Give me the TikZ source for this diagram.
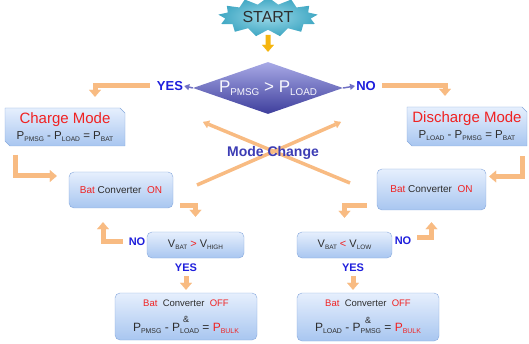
\documentclass[tikz,border=0pt]{standalone}
\usepackage{fontspec}
\setmainfont{Liberation Sans}
\usetikzlibrary{arrows.meta,shapes.geometric,shapes.misc,shapes.symbols}
\definecolor{Orng}{HTML}{F8BB82}
\definecolor{Gold}{HTML}{F5B50F}
\definecolor{Txt}{HTML}{2E2E2E}
\definecolor{RedT}{HTML}{F02222}
\definecolor{BlueT}{HTML}{1E1EDC}
\definecolor{Purp}{HTML}{3C3CB4}
\definecolor{PurpA}{HTML}{7070C4}
\definecolor{BoxT}{HTML}{E6EFFD}
\definecolor{BoxB}{HTML}{A8C6F0}
\definecolor{BoxE}{HTML}{86A8DC}
\definecolor{DiaT}{HTML}{A8AAE6}
\definecolor{DiaB}{HTML}{3E3E9C}
\definecolor{StarF}{HTML}{3FA7C3}
\definecolor{StarI}{HTML}{9AD8E8}
\newcommand\fsz[1]{\fontsize{#1}{#1}\selectfont}
\newcommand\sbs[1]{\raisebox{-0.35ex}{\scalebox{0.58}{#1}}}

\begin{document}
\begin{tikzpicture}[x=1pt,y=-1pt,
  box/.style={draw=BoxE,top color=BoxT,bottom color=BoxB,rounded corners=5pt,
    inner sep=2pt,align=center,text=Txt},
  modebox/.style={draw=BoxE,top color=BoxT,bottom color=BoxB,chamfered rectangle,
    chamfered rectangle corners={north east,south west},chamfered rectangle xsep=2.5pt,
    chamfered rectangle ysep=2.5pt,inner sep=1pt,align=center,text=Txt},
  lbl/.style={font=\bfseries\fsz{13},text=BlueT,inner sep=1pt},
  slbl/.style={font=\bfseries\fsz{11},text=BlueT,inner sep=1pt},
  elbow/.style={draw=Orng,line width=5pt,-{Triangle[width=12pt,length=7pt,line width=0.1pt]}},
  cross/.style={draw=Orng,line width=3.5pt,-{Triangle[width=8pt,length=6pt,line width=0.1pt]}},
  tip/.style={draw=PurpA,line width=1.5pt,-{Triangle[width=6pt,length=5pt]}}]
  \useasboundingbox (0,0) rectangle (529,344);
  \node[starburst,starburst points=13,starburst point height=7pt,random starburst=0,
    inner color=StarI,outer color=StarF,minimum width=100pt,minimum height=32pt,
    font=\fsz{16},text=Txt] (start) at (268,17) {START};
  \node[diamond,aspect=2.9,minimum width=150pt,minimum height=52pt,inner sep=0pt,
    top color=DiaT,bottom color=DiaB,text=white!92!DiaT,font=\fsz{17}] (cond) at (268,88)
    {P\sbs{PMSG} > P\sbs{LOAD}};
  \node[lbl] (yesT) at (170,86) {YES};
  \node[lbl] (noT) at (366,86) {NO};
  \node[modebox,minimum width=120pt,minimum height=38pt] (charge) at (65,127)
    {{\color{RedT}\fsz{15}Charge Mode}\\[4pt]\fsz{11.5}P\sbs{PMSG} - P\sbs{LOAD} = P\sbs{BAT}};
  \node[modebox,minimum width=120pt,minimum height=39pt] (discharge) at (467,126.5)
    {{\color{RedT}\fsz{15}Discharge Mode}\\[4pt]\fsz{11.5}P\sbs{LOAD} - P\sbs{PMSG} = P\sbs{BAT}};
  \node[box,minimum width=104pt,minimum height=36pt,font=\fsz{10}] (batL) at (121,190)
    {{\color{RedT}Bat} Converter\ \ {\color{RedT}ON}};
  \node[box,minimum width=109pt,minimum height=41pt,font=\fsz{10}] (batR) at (431.5,189.5)
    {{\color{RedT}Bat} Converter\ \ {\color{RedT}ON}};
  \node[box,minimum width=97pt,minimum height=26pt,font=\fsz{11}] (vhigh) at (195.5,245)
    {V\sbs{BAT} {\color{RedT}>} V\sbs{HIGH}};
  \node[box,minimum width=95pt,minimum height=26pt,font=\fsz{11}] (vlow) at (344.5,245)
    {V\sbs{BAT} {\color{RedT}<} V\sbs{LOW}};
  \node[slbl] (noL) at (137,242) {NO};
  \node[slbl] (yesL) at (186,268) {YES};
  \node[slbl] (noR) at (403,241) {NO};
  \node[slbl] (yesR) at (353,268) {YES};
  \node[box,minimum width=142pt,minimum height=47pt,font=\fsz{9.5}] (offL) at (186,316.5)
    {{\color{RedT}Bat}\ \ Converter\ \ {\color{RedT}OFF}\\[7pt]{\fsz{9}\&}\\[-1pt]
     \fsz{12}P\sbs{PMSG} - P\sbs{LOAD} = {\color{RedT}P\sbs{BULK}}};
  \node[box,minimum width=142pt,minimum height=48pt,font=\fsz{9.5}] (offR) at (368,317)
    {{\color{RedT}Bat}\ \ Converter\ \ {\color{RedT}OFF}\\[7pt]{\fsz{9}\&}\\[-1pt]
     \fsz{12}P\sbs{LOAD} - P\sbs{PMSG} = {\color{RedT}P\sbs{BULK}}};
  \draw[draw=Gold,line width=5pt,-{Triangle[width=12pt,length=7pt,line width=0.1pt]},
    shorten <=5pt,shorten >=10pt] (start.south) -- (cond.north);
  \draw[tip] (cond.west) -- (yesT.east);
  \draw[tip] (cond.east) -- (noT.west);
  \draw[elbow,shorten <=6pt,shorten >=11pt] (yesT.west) -| ([xshift=30pt]charge.north);
  \draw[elbow,shorten <=5pt,shorten >=11pt] (noT.east) -| ([xshift=-22pt]discharge.north);
  \draw[elbow,shorten <=11pt,shorten >=12pt] ([xshift=8pt]charge.south west) |- ([yshift=14pt]batL.west);
  \draw[elbow,shorten <=10pt,shorten >=3pt] ([xshift=-5pt]discharge.south east) |- ([yshift=13pt]batR.east);
  \draw[elbow,shorten <=7pt,shorten >=15pt] ([yshift=3pt]batL.south east) -| (vhigh.north);
  \draw[elbow,shorten <=10pt,shorten >=14pt] ([yshift=5pt]batR.south west) -| (vlow.north);
  \draw[elbow,shorten <=5pt,shorten >=14pt] (noL.west) -| ([xshift=-18pt]batL.south);
  \draw[elbow,shorten <=5pt,shorten >=12pt] ([yshift=3pt]noR.east) -| (batR.south);
  \draw[elbow,shorten <=3pt,shorten >=3pt] (yesL.south) -- (offL.north);
  \draw[elbow,shorten <=3pt,shorten >=3pt] (yesR.south) -- (yesR.south |- offR.north);
  \coordinate (xa) at (197,185);
  \coordinate (xb) at (341,122);
  \coordinate (xc) at (350,183);
  \coordinate (xd) at (203,122);
  \draw[cross] (xa) -- (xb);
  \draw[cross] (xc) -- (xd);
  \node[font=\bfseries\fsz{14},text=Purp,inner sep=1pt] (mode) at (273,153) {Mode Change};
\end{tikzpicture}
\end{document}
